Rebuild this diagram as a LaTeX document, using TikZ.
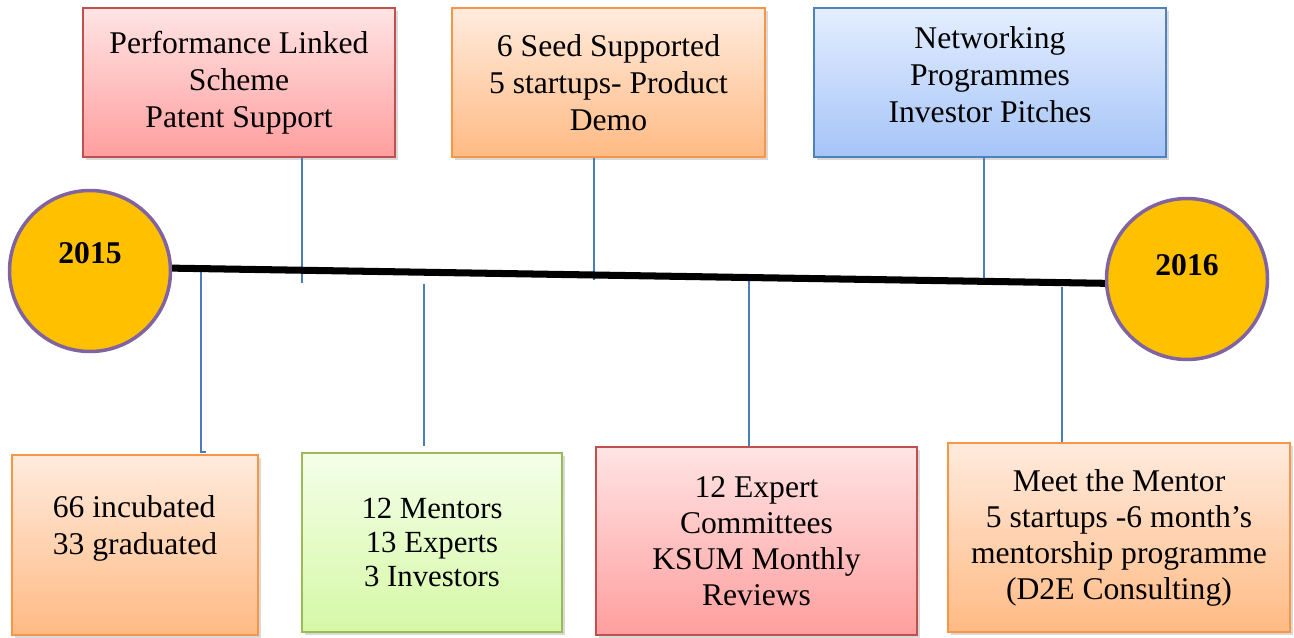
\documentclass[tikz,border=0pt]{standalone}
\usepackage{fontspec}
\setmainfont{Liberation Serif}
\usetikzlibrary{shadows}

\definecolor{yearfill}{HTML}{FFC000}
\definecolor{yearedge}{HTML}{8064A2}
\definecolor{linkblue}{HTML}{4A7EBB}
\definecolor{redEdge}{HTML}{C0504D}
\definecolor{redTop}{HTML}{FFE4E4}
\definecolor{redBot}{HTML}{FF9E9E}
\definecolor{orgEdge}{HTML}{F79646}
\definecolor{orgTop}{HTML}{FFEBDD}
\definecolor{orgBot}{HTML}{FFBA84}
\definecolor{bluEdge}{HTML}{4F81BD}
\definecolor{bluTop}{HTML}{E4EEFF}
\definecolor{bluBot}{HTML}{A5C4F7}
\definecolor{grnEdge}{HTML}{9BBB59}
\definecolor{grnTop}{HTML}{F3FFE8}
\definecolor{grnBot}{HTML}{D6F8A6}

\tikzset{
  year/.style={circle, draw=yearedge, line width=2pt, fill=yearfill, minimum size=3.22cm, inner sep=0},
  yeartxt/.style={font=\fontsize{18}{22}\selectfont\bfseries},
  box/.style={draw, line width=1.1pt, inner sep=0, align=center,
    drop shadow={shadow xshift=1.5pt, shadow yshift=-1.5pt, opacity=0.3},
    font=\fontsize{18}{21}\selectfont},
  redbox/.style={box, draw=redEdge, top color=redTop, bottom color=redBot},
  orgbox/.style={box, draw=orgEdge, top color=orgTop, bottom color=orgBot},
  blubox/.style={box, draw=bluEdge, top color=bluTop, bottom color=bluBot},
  grnbox/.style={box, draw=grnEdge, top color=grnTop, bottom color=grnBot},
  boxtxt/.style={align=center, inner sep=0, font=\fontsize{18}{21}\selectfont},
  link/.style={draw=linkblue, line width=0.7pt}
}

\begin{document}
\begin{tikzpicture}[x=0.02cm, y=-0.02cm]
  \useasboundingbox (0,0) rectangle (1294,637);

  \node[redbox, minimum width=6.24cm, minimum height=2.98cm] (perf) at (239,82.5)
    {Performance Linked\\Scheme\\Patent Support};
  \node[orgbox, minimum width=6.26cm, minimum height=2.98cm] (seed) at (608.5,82.5)
    {6 Seed Supported\\5 startups- Product\\Demo};
  \node[blubox, minimum width=7.04cm, minimum height=2.98cm] (netw) at (990,82.5) {};
  \node[boxtxt] (netwtxt) at (990,75) {Networking\\Programmes\\Investor Pitches};

  \node[orgbox, minimum width=4.92cm, minimum height=3.6cm] (incub) at (135,545) {};
  \node[boxtxt, align=left] (incubtxt) at (135,528) {66 incubated\\33 graduated};
  \node[grnbox, minimum width=5.2cm, minimum height=3.58cm, font=\fontsize{17.5}{19.5}\selectfont] (mentor) at (432,542.5)
    {12 Mentors\\13 Experts\\3 Investors};
  \node[redbox, minimum width=6.42cm, minimum height=3.76cm, font=\fontsize{18}{20.5}\selectfont] (expert) at (756.5,541)
    {12 Expert\\Committees\\KSUM Monthly\\Reviews};
  \node[orgbox, minimum width=6.84cm, minimum height=3.78cm, font=\fontsize{18}{20.5}\selectfont] (meet) at (1119,537.5)
    {Meet the Mentor\\5 startups -6 month’s\\mentorship programme\\(D2E Consulting)};

  \coordinate (t1) at (302,283);
  \coordinate (t2) at (594,280);
  \coordinate (t3) at (984,278);
  \coordinate (b1) at (201,266);
  \coordinate (b1h) at (206,452);
  \coordinate (b2) at (424,284);
  \coordinate (b2e) at (424,446);
  \coordinate (b3) at (749,281);
  \coordinate (b4) at (1062,287);

  \draw[link] (t1 |- perf.south) -- (t1);
  \draw[link] (t2 |- seed.south) -- (t2);
  \draw[link] (t3 |- netw.south) -- (t3);
  \draw[link] (b1) -- (b1 |- b1h) -- (b1h);
  \draw[link] (b2) -- (b2e);
  \draw[link] (b3) -- (b3 |- expert.north);
  \draw[link] (b4) -- (b4 |- meet.north);

  \node[year] (c15) at (90,271) {};
  \node[year] (c16) at (1187,279) {};
  \draw[line width=4pt, line cap=butt] (c15.2) -- (c16.183);
  \node[yeartxt] (y15) at (90,253) {2015};
  \node[yeartxt] (y16) at (1187,265) {2016};
\end{tikzpicture}
\end{document}
